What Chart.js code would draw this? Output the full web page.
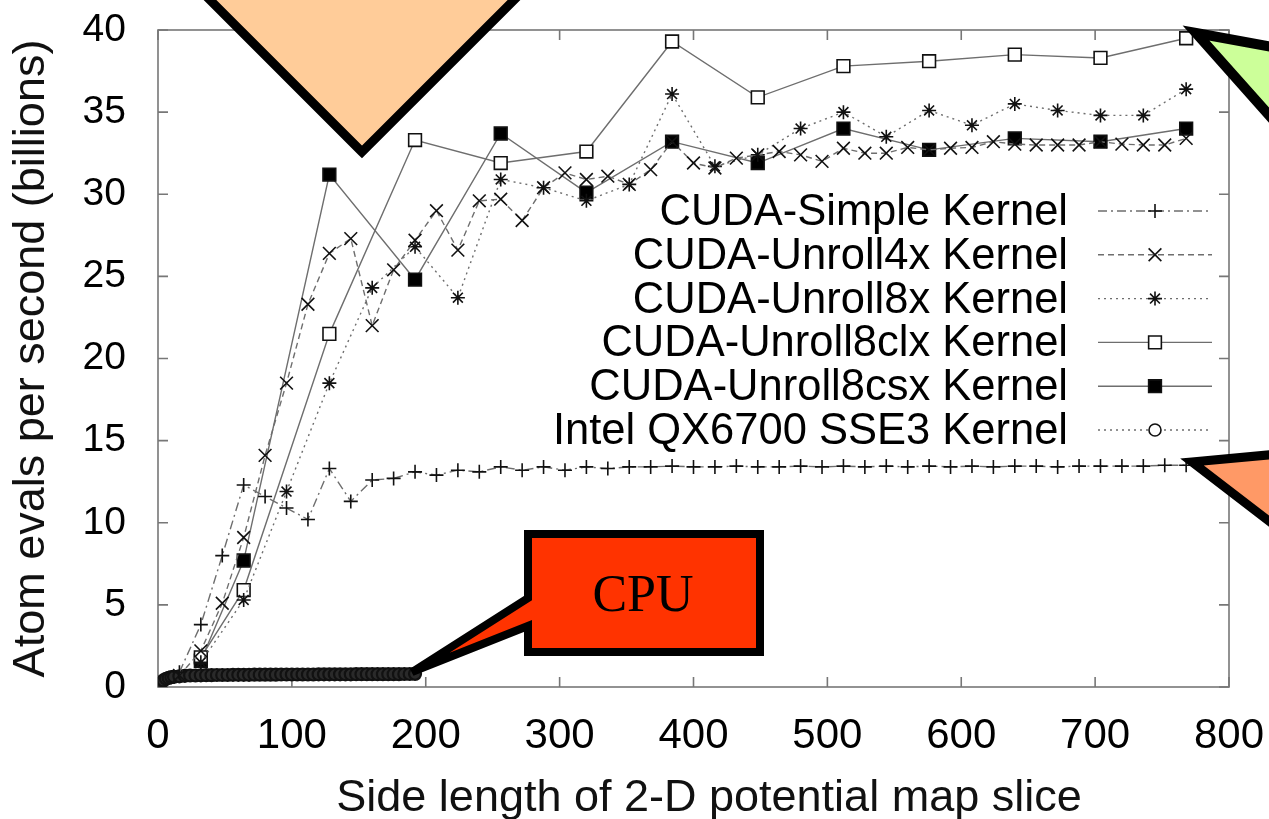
<!DOCTYPE html>
<html>
<head>
<meta charset="utf-8">
<script src="https://cdn.jsdelivr.net/npm/chart.js@4.4.0/dist/chart.umd.min.js"></script>
<style>
html, body { margin: 0; padding: 0; background: #fff; }
</style>
</head>
<body>
<canvas id="chart" width="1269" height="819"></canvas>
<script>
// values (x = side length, y = billions of atom evals / s)
const step16 = [16,32,48,64,80,96,112,128,144,160,176,192,208,224,240,256,272,288,304,320,336,352,368,384,
                400,416,432,448,464,480,496,512,528,544,560,576,592,608,624,640,656,672,688,704,720,736,752,768];
const simpleY = [0.9,3.8,8.0,12.3,11.6,10.9,10.2,13.3,11.3,12.6,12.7,13.1,12.9,13.2,13.1,13.4,13.2,13.4,13.2,13.4,13.3,13.4,13.4,13.45,
                 13.4,13.4,13.45,13.4,13.4,13.45,13.4,13.45,13.4,13.45,13.4,13.45,13.4,13.45,13.4,13.45,13.45,13.4,13.45,13.45,13.45,13.45,13.5,13.5];
const unroll4Y = [0.7,2.2,5.1,9.1,14.1,18.5,23.3,26.4,27.3,22.0,25.4,27.2,29.0,26.6,29.6,29.7,28.4,30.4,31.3,30.9,31.1,30.6,31.5,33.2,
                  31.9,31.6,32.2,32.4,32.6,32.4,32.0,32.8,32.5,32.5,32.85,32.7,32.8,32.85,33.2,33.05,33.0,33.0,33.0,33.2,33.05,33.0,33.0,33.4];
const step32 = [32,64,96,128,160,192,224,256,288,320,352,384,416,448,480,512,544,576,608,640,672,704,736,768];
const unroll8Y = [1.5,5.3,11.9,18.5,24.3,26.8,23.7,30.9,30.4,29.6,30.6,36.1,31.7,32.4,34.0,35.0,33.5,35.1,34.2,35.5,35.1,34.8,34.8,36.4];
const step64 = [32,64,128,192,256,320,384,448,512,576,640,704,768];
const unroll8clY = [1.8,5.9,21.5,33.3,31.9,32.6,39.3,35.9,37.8,38.1,38.5,38.3,39.5];
const unroll8csY = [1.6,7.7,31.2,24.8,33.7,30.1,33.2,31.9,34.0,32.7,33.4,33.2,34.0];
const cpuX = [1,2,4,6,8,10,12,16,20,24,28,32,36,40,44,48,52,56,60,64,68,72,76,80,84,88,92,96,100,104,108,112,
              116,120,124,128,132,136,140,144,148,152,156,160,164,168,172,176,180,184,188,192];
const cpuY = [0.15,0.25,0.4,0.5,0.55,0.6,0.62,0.65,0.68,0.7,0.7,0.71,0.72,0.72,0.73,0.73,0.73,0.74,0.74,0.74,0.74,0.75,0.75,0.75,
              0.75,0.75,0.76,0.76,0.76,0.76,0.76,0.76,0.76,0.77,0.77,0.77,0.77,0.77,0.77,0.77,0.78,0.78,0.78,0.78,0.78,0.78,0.78,0.78,
              0.78,0.79,0.79,0.8];
const xTicks = [0,100,200,300,400,500,600,700,800];
const yTicks = [0,5,10,15,20,25,30,35,40];

const SANS = '"Liberation Sans", Arial, Helvetica, sans-serif';
const LINE = '#6e6e6e';

const pts = (xs, ys) => xs.map((x, i) => ({x: x, y: ys[i]}));

const series = [
  {label: 'CUDA-Simple Kernel', data: pts(step16, simpleY), dash: [9,4,2,4], style: 'cross', r: 7, fill: '#000', key: '#000'},
  {label: 'CUDA-Unroll4x Kernel', data: pts(step16, unroll4Y), dash: [6,4], style: 'crossRot', r: 9, fill: '#000', key: '#000'},
  {label: 'CUDA-Unroll8x Kernel', data: pts(step32, unroll8Y), dash: [2,4], style: 'star', r: 7, fill: '#000', key: '#000'},
  {label: 'CUDA-Unroll8clx Kernel', data: pts(step64, unroll8clY), dash: [], style: 'rect', r: 9, fill: '#fff', key: '#fff'},
  {label: 'CUDA-Unroll8csx Kernel', data: pts(step64, unroll8csY), dash: [], style: 'rect', r: 9, fill: '#000', key: '#000'},
  {label: 'Intel QX6700 SSE3 Kernel', data: pts(cpuX, cpuY), dash: [2,4], style: 'circle', r: 6, fill: '#2a2a2a', key: '#fff'}
];

const datasets = series.map(s => ({
  label: s.label,
  data: s.data,
  showLine: true,
  borderColor: LINE,
  borderWidth: 1.4,
  borderDash: s.dash,
  pointStyle: s.style,
  pointRadius: s.r,
  pointBorderColor: '#111',
  pointBorderWidth: s.style === 'circle' ? 2.2 : 1.6,
  pointBackgroundColor: s.fill
}));

// gnuplot style box with inward ticks on all four sides
const framePlugin = {
  id: 'frame',
  beforeDatasetsDraw(chart) {
    const {ctx, chartArea: a, scales} = chart;
    ctx.save();
    ctx.strokeStyle = '#777';
    ctx.lineWidth = 1.6;
    ctx.strokeRect(a.left, a.top, a.right - a.left, a.bottom - a.top);
    ctx.beginPath();
    xTicks.forEach(v => {
      const px = scales.x.getPixelForValue(v);
      ctx.moveTo(px, a.bottom); ctx.lineTo(px, a.bottom - 10);
      ctx.moveTo(px, a.top); ctx.lineTo(px, a.top + 10);
    });
    yTicks.forEach(v => {
      const py = scales.y.getPixelForValue(v);
      ctx.moveTo(a.left, py); ctx.lineTo(a.left + 10, py);
      ctx.moveTo(a.right, py); ctx.lineTo(a.right - 10, py);
    });
    ctx.stroke();
    // x axis title sits a little right of the plot centre in the original
    ctx.fillStyle = '#111';
    ctx.font = '45px ' + SANS;
    ctx.textAlign = 'center';
    ctx.textBaseline = 'middle';
    ctx.fillText('Side length of 2-D potential map slice', 709, 799);
    ctx.restore();
  }
};

// key in the upper right, text right aligned, sample to the right
const keyPlugin = {
  id: 'key',
  afterDatasetsDraw(chart) {
    const ctx = chart.ctx;
    ctx.save();
    ctx.font = '43.5px ' + SANS;
    ctx.textAlign = 'right';
    ctx.textBaseline = 'middle';
    series.forEach((s, i) => {
      const y = 211 + i * 43.8;
      ctx.fillStyle = '#000';
      ctx.fillText(s.label, 1068, y + 2);
      ctx.strokeStyle = LINE;
      ctx.lineWidth = 1.4;
      ctx.setLineDash(s.dash);
      ctx.beginPath();
      ctx.moveTo(1098, y); ctx.lineTo(1212, y);
      ctx.stroke();
      ctx.setLineDash([]);
      ctx.strokeStyle = '#111';
      ctx.fillStyle = s.key;
      ctx.lineWidth = 1.6;
      Chart.helpers.drawPoint(ctx, {pointStyle: s.style, radius: s.r, rotation: 0, borderWidth: 1.6}, 1155, y);
    });
    ctx.restore();
  }
};

// the slide's callout shapes laid over the figure
const calloutPlugin = {
  id: 'callouts',
  afterDraw(chart) {
    const ctx = chart.ctx;
    const poly = (p, fill, lw) => {
      ctx.beginPath();
      ctx.moveTo(p[0][0], p[0][1]);
      for (let i = 1; i < p.length; i++) ctx.lineTo(p[i][0], p[i][1]);
      ctx.closePath();
      ctx.fillStyle = fill;
      ctx.fill();
      ctx.lineWidth = lw;
      ctx.strokeStyle = '#000';
      ctx.stroke();
    };
    ctx.save();
    ctx.lineJoin = 'miter';
    ctx.miterLimit = 4;
    poly([[362,152],[150,-60],[574,-60]], '#ffcc99', 9);
    poly([[1196,33],[1300,52],[1300,150]], '#ccff99', 10);
    poly([[1192,462],[1300,452],[1300,545]], '#ff9966', 9);
    poly([[528,534],[760,534],[760,652],[528,652],[528,626],[412,672],[528,598]], '#ff3300', 8);
    ctx.fillStyle = '#000';
    ctx.font = '52px "Liberation Serif", "Times New Roman", serif';
    ctx.textAlign = 'center';
    ctx.textBaseline = 'middle';
    ctx.fillText('CPU', 643, 597);
    ctx.restore();
  }
};

new Chart(document.getElementById('chart'), {
  type: 'scatter',
  data: {datasets: datasets},
  options: {
    responsive: false,
    animation: false,
    devicePixelRatio: 1,
    layout: {padding: {left: 0, right: 40, top: 30, bottom: 0}},
    plugins: {legend: {display: false}, tooltip: {enabled: false}},
    scales: {
      x: {
        type: 'linear', min: 0, max: 800,
        afterFit: s => { s.height = 132; s.paddingLeft = 0; s.paddingRight = 0; },
        afterBuildTicks: s => { s.ticks = xTicks.map(v => ({value: v})); },
        ticks: {font: {family: SANS, size: 42}, color: '#000', padding: 16, maxRotation: 0},
        grid: {display: false},
        border: {display: false}
      },
      y: {
        min: 0, max: 40,
        afterFit: s => { s.width = 158; s.paddingTop = 0; s.paddingBottom = 0; },
        afterBuildTicks: s => { s.ticks = yTicks.map(v => ({value: v})); },
        ticks: {font: {family: SANS, size: 39}, color: '#000', padding: 24},
        grid: {display: false},
        border: {display: false},
        title: {display: true, text: 'Atom evals per second (billions)',
                font: {family: SANS, size: 45, lineHeight: 1}, color: '#111', padding: {top: 9, bottom: 0}}
      }
    }
  },
  plugins: [framePlugin, keyPlugin, calloutPlugin]
});
</script>
</body>
</html>
